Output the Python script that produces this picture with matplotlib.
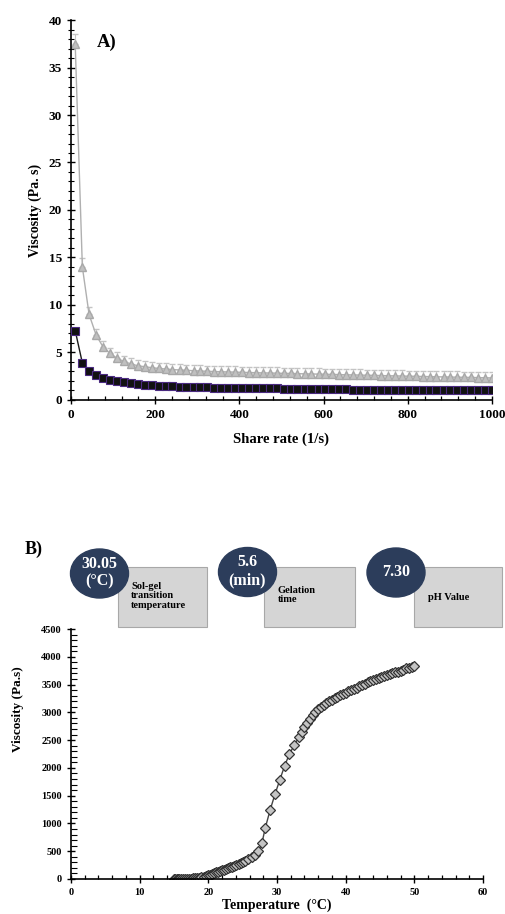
import matplotlib.pyplot as plt
from matplotlib.patches import Ellipse, Rectangle
from matplotlib.ticker import MultipleLocator

# panel A - viscosity vs shear rate
shear = [10, 27, 43, 60, 76, 93, 109, 126, 142, 159,
         175, 192, 208, 225, 241, 258, 274, 291, 307, 324,
         340, 357, 373, 390, 406, 423, 439, 456, 472, 489,
         505, 522, 538, 555, 571, 588, 604, 621, 637, 654,
         670, 687, 703, 720, 736, 753, 769, 786, 802, 819,
         835, 852, 868, 885, 901, 918, 934, 951, 967, 984,
         1000]
visc_gray = [37.5, 14.0, 9.0, 6.8, 5.6, 4.9, 4.4, 4.05, 3.8, 3.6,
             3.5, 3.4, 3.32, 3.26, 3.2, 3.16, 3.12, 3.08, 3.05, 3.02,
             2.99, 2.97, 2.95, 2.93, 2.91, 2.89, 2.87, 2.85, 2.84, 2.82,
             2.8, 2.79, 2.77, 2.75, 2.74, 2.72, 2.7, 2.69, 2.67, 2.65,
             2.64, 2.62, 2.6, 2.59, 2.57, 2.55, 2.54, 2.52, 2.5, 2.49,
             2.47, 2.46, 2.44, 2.43, 2.41, 2.4, 2.38, 2.37, 2.35, 2.34,
             2.32]
err_gray = [1.0, 0.9, 0.8, 0.7, 0.65, 0.6, 0.6, 0.6, 0.6, 0.6,
            0.6, 0.6, 0.6, 0.6, 0.6, 0.6, 0.6, 0.6, 0.6, 0.6,
            0.6, 0.6, 0.6, 0.6, 0.6, 0.6, 0.6, 0.6, 0.6, 0.6,
            0.6, 0.6, 0.6, 0.6, 0.6, 0.6, 0.6, 0.6, 0.6, 0.6,
            0.6, 0.6, 0.6, 0.6, 0.6, 0.6, 0.6, 0.6, 0.6, 0.6,
            0.6, 0.6, 0.6, 0.6, 0.6, 0.6, 0.6, 0.6, 0.6, 0.6,
            0.6]
visc_black = [7.3, 3.9, 3.05, 2.6, 2.3, 2.1, 1.95, 1.85, 1.75, 1.67,
              1.6, 1.55, 1.5, 1.47, 1.44, 1.41, 1.39, 1.37, 1.35, 1.33,
              1.31, 1.3, 1.28, 1.27, 1.26, 1.25, 1.24, 1.23, 1.22, 1.21,
              1.2, 1.19, 1.18, 1.17, 1.16, 1.15, 1.14, 1.13, 1.12, 1.11,
              1.1, 1.1, 1.09, 1.08, 1.07, 1.07, 1.06, 1.06, 1.05, 1.05,
              1.04, 1.04, 1.03, 1.03, 1.02, 1.02, 1.01, 1.01, 1.0, 1.0,
              1.0]

# panel B - viscosity vs temperature
temp = [15.0, 15.2, 15.4, 15.6, 15.8, 16.0, 16.3, 16.6, 16.9, 17.2,
        17.5, 17.8, 18.1, 18.4, 18.7, 19.0, 19.3, 19.6, 19.9, 20.2,
        20.5, 20.8, 21.1, 21.4, 21.7, 22.0, 22.3, 22.6, 22.9, 23.2,
        23.5, 23.8, 24.1, 24.4, 24.7, 25.0, 25.4, 25.8, 26.3, 26.8,
        27.3, 27.8, 28.3, 29.0, 29.7, 30.4, 31.1, 31.8, 32.5, 33.2,
        33.6, 34.0, 34.4, 34.8, 35.2, 35.6, 36.0, 36.4, 36.8, 37.2,
        37.6, 38.0, 38.4, 38.8, 39.2, 39.6, 40.0, 40.4, 40.8, 41.2,
        41.6, 42.0, 42.4, 42.8, 43.2, 43.6, 44.0, 44.4, 44.8, 45.2,
        45.6, 46.0, 46.4, 46.8, 47.2, 47.6, 48.0, 48.4, 48.8, 49.2,
        49.6, 50.0]
visc_temp = [0, 0, 0, 0, 0, 0, 2, 3, 5, 6,
             8, 10, 13, 17, 22, 30, 40, 52, 65, 80,
             95, 108, 120, 132, 145, 158, 170, 182, 195, 208,
             220, 235, 250, 265, 282, 300, 325, 355, 395, 440,
             500, 642, 922, 1241, 1523, 1780, 2032, 2248, 2404, 2560,
             2650, 2730, 2800, 2880, 2960, 3010, 3060, 3100, 3140, 3170,
             3200, 3230, 3260, 3280, 3310, 3330, 3350, 3380, 3400, 3420,
             3440, 3470, 3490, 3510, 3540, 3560, 3580, 3600, 3620, 3640,
             3660, 3670, 3690, 3700, 3720, 3730, 3750, 3770, 3790, 3800,
             3820, 3830]

# info boxes
badge_values = ["30.05\n(°C)", "5.6\n(min)", "7.30"]
badge_labels = ["Sol-gel\ntransition\ntemperature", "Gelation\ntime", "pH Value"]

plt.rcParams['font.family'] = ['Liberation Serif', 'DejaVu Serif']
plt.rcParams['font.weight'] = 'bold'

fig = plt.figure(figsize=(5.06, 9.14), dpi=100)


def style(ax, fs, ydir_minor='inout'):
    for s in ['top', 'right']:
        ax.spines[s].set_visible(False)
    for s in ['left', 'bottom']:
        ax.spines[s].set_linewidth(1.2)
    ax.tick_params(which='major', direction='inout', length=6, width=1, labelsize=fs)
    ax.tick_params(axis='x', which='minor', direction='in', length=3, width=0.9)
    ax.tick_params(axis='y', which='minor', direction=ydir_minor, length=4, width=0.8)
    for lab in ax.get_xticklabels() + ax.get_yticklabels():
        lab.set_fontweight('bold')


# A
axA = fig.add_axes([0.1403, 0.5624, 0.832, 0.4157])
axA.errorbar(shear, visc_gray, yerr=[[0] * len(err_gray), err_gray], color='#b0b0b0',
             marker='^', markersize=6, markerfacecolor='#c0c0c0', markeredgecolor='#a8a8a8',
             lw=1, ecolor='#c4c4c4', elinewidth=0.8, capsize=2.2, zorder=2)
axA.plot(shear, visc_black, color='#1a1a1a', marker='s', markersize=6,
         markerfacecolor='#111111', markeredgecolor='#4a2a80', markeredgewidth=0.8, lw=1, zorder=3)
axA.set_xlim(0, 1000)
axA.set_ylim(0, 40)
axA.xaxis.set_major_locator(MultipleLocator(200))
axA.xaxis.set_minor_locator(MultipleLocator(40))
axA.yaxis.set_major_locator(MultipleLocator(5))
axA.yaxis.set_minor_locator(MultipleLocator(1))
style(axA, 9.5)
axA.set_xlabel("Share rate (1/s)", fontsize=10.5, fontweight='bold', labelpad=8)
axA.set_ylabel("Viscosity (Pa. s)", fontsize=10, fontweight='bold', labelpad=5)
axA.text(0.085, 0.94, "A)", transform=axA.transAxes, fontsize=13.5, fontweight='bold',
         ha='center', va='center')

# B
axB = fig.add_axes([0.1403, 0.0383, 0.8142, 0.2735])
axB.plot(temp, visc_temp, color='#444444', lw=1, marker='D', markersize=5,
         markerfacecolor='#c4c4c4', markeredgecolor='#333333', markeredgewidth=0.9)
axB.set_xlim(0, 60)
axB.set_ylim(0, 4500)
axB.xaxis.set_major_locator(MultipleLocator(10))
axB.xaxis.set_minor_locator(MultipleLocator(2))
axB.yaxis.set_major_locator(MultipleLocator(500))
axB.yaxis.set_minor_locator(MultipleLocator(100))
style(axB, 7.5, ydir_minor='in')
axB.set_xlabel("Temperature  (°C)", fontsize=10, fontweight='bold', labelpad=1)
axB.set_ylabel("Viscosity (Pa.s)", fontsize=9.5, fontweight='bold')
axB.yaxis.set_label_coords(-0.115, 0.68)

# overlay in pixel coordinates for the info badges
ov = fig.add_axes([0, 0, 1, 1])
ov.set_xlim(0, 506)
ov.set_ylim(914, 0)
ov.axis('off')
ov.text(34, 549, "B)", fontsize=13, fontweight='bold', ha='center', va='center')

rects = [(118, 207), (264, 355), (414, 502)]
circles = [(99.5, 573.5), (247.5, 572), (396, 572.5)]
label_pos = [(131, 596), (278, 595), (428, 597)]
for i in range(3):
    x0, x1 = rects[i]
    ov.add_patch(Rectangle((x0, 567), x1 - x0, 60, facecolor='#d5d5d5', edgecolor='#a8a8a8', lw=0.8))
    cx, cy = circles[i]
    ov.add_patch(Ellipse((cx, cy), 58, 49, facecolor='#2c3d5b', edgecolor='#2c3d5b', zorder=3))
    ov.text(cx, cy - 1, badge_values[i], color='white', fontsize=11.5, fontweight='bold',
            ha='center', va='center', linespacing=1.15, zorder=4)
    lx, ly = label_pos[i]
    ov.text(lx, ly, badge_labels[i], fontsize=7.5, fontweight='bold', ha='left', va='center',
            linespacing=1.05, zorder=4)

plt.savefig("out.png", dpi=100)
